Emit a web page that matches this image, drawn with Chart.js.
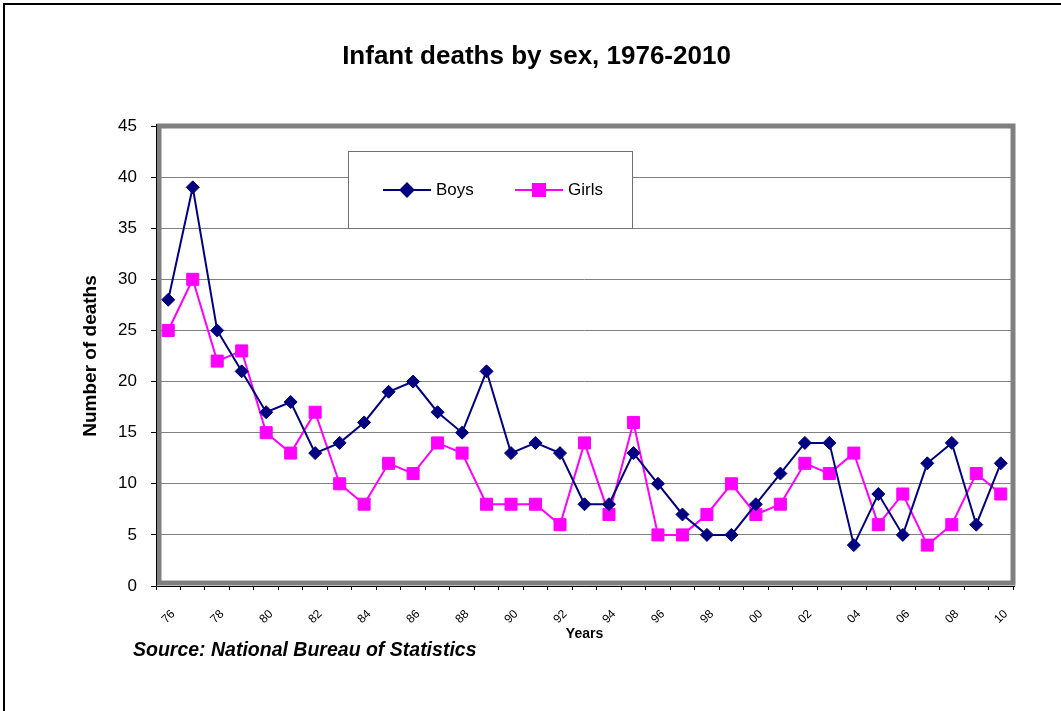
<!DOCTYPE html>
<html><head><meta charset="utf-8">
<script src="https://cdn.jsdelivr.net/npm/chart.js@4.4.0/dist/chart.umd.min.js"></script>
<style>html,body{margin:0;padding:0;background:#fff;overflow:hidden}#wrap{width:1061px;height:711px;position:relative}</style>
</head><body><div id="wrap"><canvas id="c" width="1061" height="711"></canvas></div>
<script>
const years = ['76','77','78','79','80','81','82','83','84','85','86','87','88','89','90','91','92','93','94','95','96','97','98','99','00','01','02','03','04','05','06','07','08','09','10'];
const boys  = [28,39,25,21,17,18,13,14,16,19,20,17,15,21,13,14,13,8,8,13,10,7,5,5,8,11,14,14,4,9,5,12,14,6,12];
const girls = [25,30,22,23,15,13,17,10,8,12,11,14,13,8,8,8,6,14,7,16,5,5,7,10,7,8,12,11,13,6,9,4,6,11,9];
const yMin = 0, yMax = 45, yStep = 5;
const chartTitle = 'Infant deaths by sex, 1976-2010';
const yTitle = 'Number of deaths';
const xTitle = 'Years';
const sourceText = 'Source: National Bureau of Statistics';
const seriesNames = ['Boys', 'Girls'];

const FONT = "Arial, 'Liberation Sans', sans-serif";

const decor = {
  id: 'decor',
  beforeDraw(chart) {
    const ctx = chart.ctx;
    ctx.save();
    ctx.fillStyle = '#fff';
    ctx.fillRect(0, 0, chart.width, chart.height);
    ctx.strokeStyle = '#000';
    ctx.lineWidth = 2;
    ctx.strokeRect(4, 4, chart.width + 20, chart.height + 20);
    ctx.restore();
  },
  beforeDatasetsDraw(chart) {
    const ctx = chart.ctx, a = chart.chartArea;
    ctx.save();
    ctx.strokeStyle = '#808080';
    ctx.lineWidth = 5;
    ctx.strokeRect(a.left + 3, a.top, a.right - a.left - 3, a.bottom - a.top - 3);
    ctx.strokeStyle = '#000';
    ctx.lineWidth = 1;
    ctx.beginPath();
    ctx.moveTo(a.left + 0.5, a.top - 2);
    ctx.lineTo(a.left + 0.5, a.bottom + 0.5);
    ctx.lineTo(a.right + 2, a.bottom + 0.5);
    ctx.stroke();
    ctx.restore();
  },
  afterDraw(chart) {
    const ctx = chart.ctx, a = chart.chartArea;
    ctx.save();
    // legend box
    const lx = a.left + 192, ly = a.top + 25, lw = 284, lh = 77;
    ctx.fillStyle = '#fff';
    ctx.fillRect(lx, ly, lw, lh);
    ctx.strokeStyle = '#707070';
    ctx.lineWidth = 1;
    ctx.strokeRect(lx + 0.5, ly + 0.5, lw, lh);
    const items = [
      {x: lx + 35, ds: chart.data.datasets[0]},
      {x: lx + 167, ds: chart.data.datasets[1]}
    ];
    const cy = ly + 39;
    items.forEach(it => {
      ctx.strokeStyle = it.ds.borderColor;
      ctx.lineWidth = 2;
      ctx.beginPath();
      ctx.moveTo(it.x, cy);
      ctx.lineTo(it.x + 48, cy);
      ctx.stroke();
      ctx.fillStyle = it.ds.backgroundColor;
      ctx.strokeStyle = it.ds.borderColor;
      Chart.helpers.drawPoint(ctx, {pointStyle: it.ds.pointStyle, radius: it.ds.pointRadius, borderWidth: 1, rotation: 0}, it.x + 24, cy);
      ctx.fillStyle = '#000';
      ctx.font = '17px ' + FONT;
      ctx.textAlign = 'left';
      ctx.textBaseline = 'middle';
      ctx.fillText(it.ds.label, it.x + 53, cy);
    });
    // source
    ctx.fillStyle = '#000';
    ctx.font = 'italic bold 19.5px ' + FONT;
    ctx.textAlign = 'left';
    ctx.textBaseline = 'middle';
    ctx.fillText(sourceText, 133, 651);
    ctx.restore();
  }
};

new Chart(document.getElementById('c'), {
  type: 'line',
  data: {
    labels: years,
    datasets: [
      {label: seriesNames[0], data: boys, borderColor: '#000080', backgroundColor: '#000080',
       pointStyle: 'rectRot', pointRadius: 6.5, pointBorderWidth: 1, borderWidth: 2, tension: 0},
      {label: seriesNames[1], data: girls, borderColor: '#FF00FF', backgroundColor: '#FF00FF',
       pointStyle: 'rect', pointRadius: 8.5, pointBorderWidth: 1, borderWidth: 2, tension: 0}
    ]
  },
  options: {
    responsive: false,
    animation: false,
    devicePixelRatio: 1,
    layout: {padding: {left: 60, right: 48, top: 0, bottom: 65}},
    plugins: {
      legend: {display: false},
      tooltip: {enabled: false},
      title: {display: true, text: chartTitle, color: '#000',
              font: {family: FONT, size: 26, weight: 'bold'},
              padding: {top: 41.4, bottom: 53.4}}
    },
    scales: {
      x: {
        type: 'category',
        offset: true,
        grid: {offset: true, drawOnChartArea: false, drawTicks: true, tickLength: 4, tickColor: '#000', color: '#000'},
        border: {display: false},
        ticks: {autoSkip: false, maxRotation: 45, minRotation: 45, color: '#000', padding: 17, labelOffset: 5,
                font: {family: FONT, size: 12},
                callback: (v, i) => (i % 2 === 0 ? years[i] : '')},
        title: {display: true, text: xTitle, color: '#000', font: {family: FONT, size: 14, weight: 'bold'},
                padding: {top: 0, bottom: 3}},
        afterFit: s => { s.height = 60; }
      },
      y: {
        min: yMin, max: yMax,
        grid: {color: '#808080', tickColor: '#000', tickLength: 5, lineWidth: 1},
        border: {display: false},
        ticks: {stepSize: yStep, color: '#000', padding: 14, font: {family: FONT, size: 17}},
        title: {display: true, text: yTitle, color: '#000', font: {family: FONT, size: 19, weight: 'bold'},
                padding: {top: 19, bottom: 0}},
        afterFit: s => { s.width = 96; }
      }
    }
  },
  plugins: [decor]
});
</script>
</body></html>
